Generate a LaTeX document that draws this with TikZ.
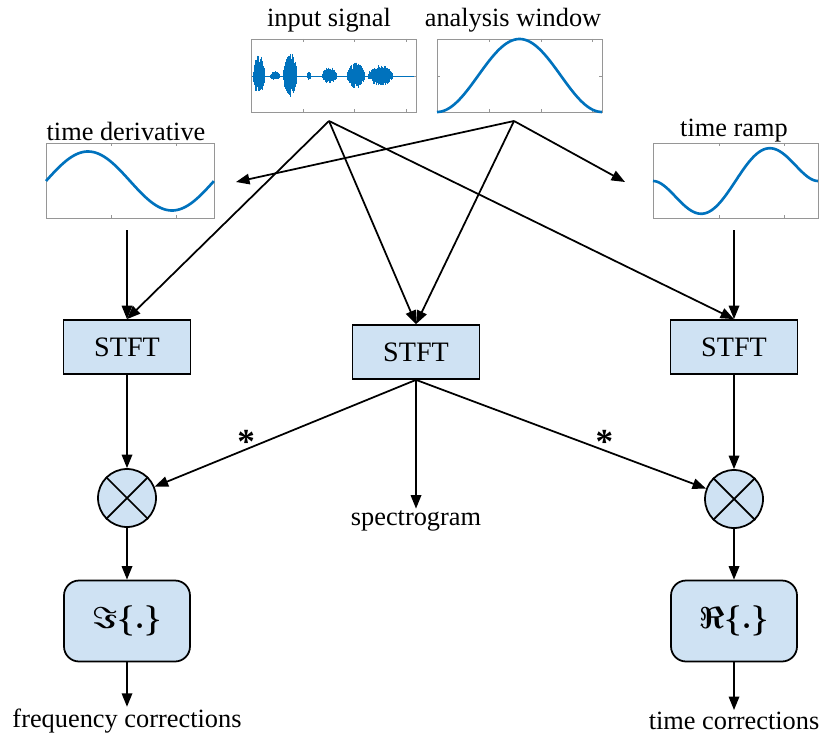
\documentclass[tikz,border=0pt]{standalone}
\usepackage{fontspec}
\setmainfont{Liberation Serif}
\usetikzlibrary{arrows.meta,positioning}

\definecolor{boxblue}{RGB}{207,226,243}
\definecolor{plotblue}{RGB}{0,114,189}
\definecolor{framegray}{RGB}{150,150,150}

\tikzset{
  txt/.style={font=\fontsize{15}{18}\selectfont, inner sep=1pt},
  stftbox/.style={draw, fill=boxblue, line width=1pt, minimum width=2.54cm, minimum height=1.08cm, font=\fontsize{16}{19}\selectfont},
  corrbox/.style={draw, fill=boxblue, line width=1pt, rounded corners=3mm, minimum width=2.52cm, minimum height=1.62cm, font=\fontsize{18}{21}\selectfont\boldmath},
  mixer/.style={draw, circle, fill=boxblue, line width=1pt, minimum size=1.16cm, inner sep=0pt},
  plotframe/.style={draw=framegray, line width=0.5pt, inner sep=0pt},
  curve/.style={plotblue, line width=1.5pt},
  flow/.style={-{Triangle[length=2.7mm,width=2.1mm]}, line width=1pt},
  star/.style={font=\fontsize{20}{24}\selectfont\bfseries, inner sep=0pt},
}

\begin{document}
\begin{tikzpicture}[x=0.02cm, y=-0.02cm]
\useasboundingbox (0,0) rectangle (820,733);

% plot panels
\node[plotframe, minimum width=3.3cm, minimum height=1.46cm] (sig) at (333.5,75.5) {};
\node[plotframe, minimum width=3.3cm, minimum height=1.46cm] (win) at (519.5,75.5) {};
\node[plotframe, minimum width=3.36cm, minimum height=1.5cm] (der) at (130,180.5) {};
\node[plotframe, minimum width=3.3cm, minimum height=1.5cm] (ramp) at (735.5,180.5) {};

\node[txt] (siglab) at (329,20) {input signal};
\node[txt] (winlab) at (513,20) {analysis window};
\node[txt] (derlab) at (126,131) {time derivative};
\node[txt] (ramplab) at (734,131) {time ramp};

% ticks
\begin{scope}[draw=framegray, line width=0.5pt]
\foreach \x in {303,354,406} {\draw (\x,39) -- (\x,42); \draw (\x,112) -- (\x,109);}
\draw (251,76) -- (254,76); \draw (416,76) -- (413,76);
\foreach \x in {489,541,592} {\draw (\x,39) -- (\x,42); \draw (\x,112) -- (\x,109);}
\draw (437,76) -- (440,76); \draw (602,76) -- (599,76);
\foreach \x in {111,176} {\draw (\x,143) -- (\x,146); \draw (\x,218) -- (\x,215);}
\foreach \x in {719,784} {\draw (\x,143) -- (\x,146); \draw (\x,218) -- (\x,215);}
\end{scope}

% waveform
\pgfmathsetseed{11}
\draw[plotblue, line width=0.4pt] (252,76) -- (414,76);
\foreach \s/\e/\h in {253/265/22, 270/280/5, 283/297/24, 307/311/5, 322/337/9, 347/365/14, 368/393/11} {
  \pgfmathtruncatemacro\n{3*(\e-\s)}
  \foreach \k in {0,...,\n} {
    \pgfmathsetmacro\x{\s+\k/3}
    \pgfmathsetmacro\a{\h*(0.45+0.55*rnd)*sqrt(sin(180*(\x-\s)/(\e-\s)))}
    \pgfmathsetmacro\b{\h*(0.4+0.5*rnd)*sqrt(sin(180*(\x-\s)/(\e-\s)))}
    \draw[plotblue, line width=0.45pt] (\x,76-\a) -- (\x,76+\b);
  }
}

% curves
\draw[curve] plot[domain=0:1, samples=80] ({437+165*\x}, {112-73*sin(180*\x)^2});
\draw[curve] plot[domain=0:1, samples=80] ({46+168*\x}, {181-29.5*sin(360*\x)});
\draw[curve] plot[domain=0:1, samples=80] ({653+165*\x}, {181-250*(\x-0.5)*sin(180*\x)^2});

% blocks
\node[stftbox] (stftL) at (127,347) {STFT};
\node[stftbox] (stftC) at (416,352) {STFT};
\node[stftbox] (stftR) at (734,347) {STFT};

\node[mixer] (mulL) at (127,498) {};
\node[mixer] (mulR) at (734,499) {};
\draw[line width=1pt] (mulL.north west) -- (mulL.south east) (mulL.north east) -- (mulL.south west);
\draw[line width=1pt] (mulR.north west) -- (mulR.south east) (mulR.north east) -- (mulR.south west);

\node[corrbox] (corrL) at (127,621) {$\Im\{.\}$};
\node[corrbox] (corrR) at (734,621) {$\Re\{.\}$};

\node[txt] (spec) at (416,521) {spectrogram};
\node[txt] (freqout) at (127,721) {frequency corrections};
\node[txt] (timeout) at (734,721) {time corrections};

% connectors
\coordinate (sigfork) at (329,121);
\coordinate (winfork) at (514,121);
\coordinate (dertip) at (236,182);
\coordinate (ramptip) at (625,182);
\coordinate (derout) at (127,230);
\coordinate (rampout) at (734,230);

\draw[flow] (winfork) -- (dertip);
\draw[flow] (winfork) -- (ramptip);
\draw[flow] (winfork) -- (stftC.north);
\draw[flow] (sigfork) -- (stftL.north);
\draw[flow] (sigfork) -- (stftC.north);
\draw[flow] (sigfork) -- (stftR.north);
\draw[flow] (derout) -- (stftL.north);
\draw[flow] (rampout) -- (stftR.north);

\draw[flow] (stftL) -- (mulL);
\draw[flow] (stftR) -- (mulR);
\draw[flow] (stftC.south) -- (mulL) node[star, pos=0.65, above=-3pt] {*};
\draw[flow] (stftC.south) -- (mulR) node[star, pos=0.65, above=-2pt] {*};
\draw[flow] (stftC) -- (spec);

\draw[flow] (mulL) -- (corrL);
\draw[flow] (mulR) -- (corrR);
\draw[flow] (corrL) -- (freqout);
\draw[flow] (corrR) -- (timeout);

\end{tikzpicture}
\end{document}
